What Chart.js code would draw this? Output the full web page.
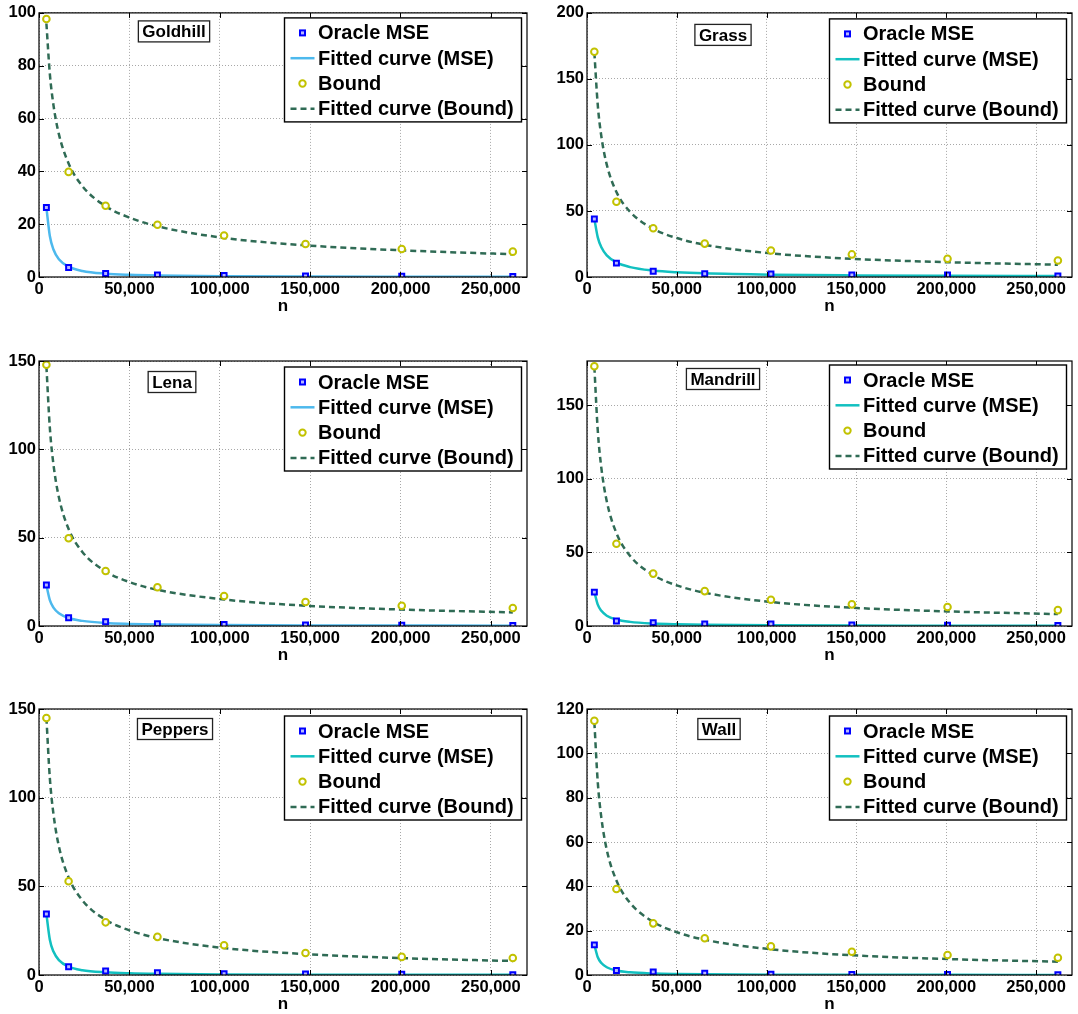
<!DOCTYPE html>
<html>
<head>
<meta charset="utf-8">
<script src="https://cdn.jsdelivr.net/npm/chart.js@4.4.0/dist/chart.umd.min.js"></script>
<style>
  body { margin: 0; background: #fff; }
  #wrap { position: relative; width: 1078px; height: 1014px; }
  #wrap canvas { position: absolute; }
</style>
</head>
<body>
<div id="wrap"></div>
<script>
// sample sizes n (64^2 ... 512^2) and the n values where the fitted curves were read
const nValues = [4096, 16384, 36864, 65536, 102400, 147456, 200704, 262144];
const fitN = [4096, 6000, 8000, 11000, 16384, 24000, 36864, 50000, 65536, 102400, 147456, 200704, 262144];
const xTickValues = [0, 50000, 100000, 150000, 200000, 250000];

const goldhillMse = [26.3, 3.6, 1.3, 0.8, 0.6, 0.4, 0.3, 0.2];
const goldhillMseFit = [26.3, 15.5, 10.4, 6.7, 3.9, 2.3, 1.27, 0.83, 0.57, 0.31, 0.19, 0.12, 0.09];
const goldhillBound = [97.7, 39.8, 27.0, 19.8, 15.7, 12.5, 10.6, 9.6];
const goldhillBoundFit = [96, 76.9, 65.1, 54.1, 43.0, 34.4, 26.8, 22.5, 19.2, 14.8, 12.0, 10.1, 8.6];
const goldhillTicks = [0, 20, 40, 60, 80, 100];

const grassMse = [43.9, 10.5, 4.3, 2.5, 2.2, 1.6, 1.5, 0.8];
const grassMseFit = [44, 30.0, 22.5, 16.4, 11.0, 7.5, 4.9, 3.6, 2.75, 1.76, 1.22, 0.9, 0.69];
const grassBound = [170.6, 57.0, 36.9, 25.3, 20.1, 17.1, 13.8, 12.5];
const grassBoundFit = [170, 130.1, 106.4, 85.1, 64.4, 49.3, 36.5, 29.5, 24.4, 17.9, 13.8, 11.2, 9.3];
const grassTicks = [0, 50, 100, 150, 200];

const lenaMse = [23.2, 4.7, 2.4, 1.3, 0.8, 0.6, 0.5, 0.3];
const lenaMseFit = [23, 14.6, 10.4, 7.2, 4.5, 2.9, 1.7, 1.2, 0.87, 0.52, 0.33, 0.23, 0.17];
const lenaBound = [147.9, 49.7, 31.1, 21.9, 17.0, 13.6, 11.5, 10.2];
const lenaBoundFit = [147, 112.1, 91.4, 72.9, 54.9, 41.9, 30.9, 24.9, 20.5, 15.0, 11.5, 9.3, 7.7];
const lenaTicks = [0, 50, 100, 150];

const mandrillMse = [23.0, 3.4, 2.3, 1.4, 1.3, 0.7, 0.5, 0.3];
const mandrillMseFit = [23, 14.5, 10.3, 7.0, 4.4, 2.8, 1.65, 1.14, 0.83, 0.48, 0.31, 0.22, 0.16];
const mandrillBound = [176.4, 55.9, 35.6, 23.7, 17.8, 14.7, 12.9, 10.8];
const mandrillBoundFit = [176, 132.7, 107.3, 84.7, 63.1, 47.6, 34.6, 27.6, 22.6, 16.3, 12.4, 9.9, 8.1];
const mandrillTicks = [0, 50, 100, 150];

const peppersMse = [34.4, 4.7, 2.3, 1.3, 0.75, 0.6, 0.4, 0.2];
const peppersMseFit = [34.4, 19.9, 13.2, 8.4, 4.7, 2.7, 1.5, 0.96, 0.65, 0.34, 0.2, 0.13, 0.09];
const peppersBound = [144.9, 52.9, 29.7, 21.5, 16.8, 12.4, 10.2, 9.6];
const peppersBoundFit = [145, 111.0, 90.8, 72.6, 55.0, 42.1, 31.1, 25.2, 20.8, 15.2, 11.8, 9.5, 7.9];
const peppersTicks = [0, 50, 100, 150];

const wallMse = [13.6, 2.0, 1.4, 0.8, 0.4, 0.2, 0.2, 0.1];
const wallMseFit = [13.6, 8.0, 5.4, 3.5, 2.0, 1.19, 0.66, 0.43, 0.3, 0.16, 0.1, 0.06, 0.04];
const wallBound = [114.7, 38.8, 23.3, 16.6, 12.9, 10.5, 9.0, 7.8];
const wallBoundFit = [114, 86.9, 70.9, 56.5, 42.6, 32.5, 24.0, 19.3, 15.9, 11.6, 8.9, 7.2, 6.0];
const wallTicks = [0, 20, 40, 60, 80, 100, 120];

const legendLabels = ["Oracle MSE", "Fitted curve (MSE)", "Bound", "Fitted curve (Bound)"];

const FONT = "'Liberation Sans', Arial, Helvetica, sans-serif";
const lightBlue = "#4db9ed";
const cyan = "#12c0c0";
const boundGreen = "#2f6b55";
const markerBlue = "#0000ff";
const boundYellow = "#c2c200";

const cols = [
    { left: 0, width: 539, plotLeft: 39, plotRight: 527 },
    { left: 539, width: 539, plotLeft: 587, plotRight: 1075 }
];
const rows = [
    { top: 0, height: 330, plotTop: 12, plotBottom: 277 },
    { top: 330, height: 350, plotTop: 361, plotBottom: 626 },
    { top: 680, height: 334, plotTop: 709, plotBottom: 975 }
];

const panels = [
    { title: "Goldhill", mse: goldhillMse, mseFit: goldhillMseFit, bound: goldhillBound, boundFit: goldhillBoundFit,
      yMax: 100, yTicks: goldhillTicks, fitColor: lightBlue, col: 0, row: 0, titleX: 135, titleY: 18.5, legendY: 5 },
    { title: "Grass", mse: grassMse, mseFit: grassMseFit, bound: grassBound, boundFit: grassBoundFit,
      yMax: 200, yTicks: grassTicks, fitColor: cyan, col: 1, row: 0, titleX: 136, titleY: 22, legendY: 6 },
    { title: "Lena", mse: lenaMse, mseFit: lenaMseFit, bound: lenaBound, boundFit: lenaBoundFit,
      yMax: 150, yTicks: lenaTicks, fitColor: lightBlue, col: 0, row: 1, titleX: 133, titleY: 21, legendY: 6 },
    { title: "Mandrill", mse: mandrillMse, mseFit: mandrillMseFit, bound: mandrillBound, boundFit: mandrillBoundFit,
      yMax: 180, yTicks: mandrillTicks, fitColor: cyan, col: 1, row: 1, titleX: 136, titleY: 18, legendY: 4 },
    { title: "Peppers", mse: peppersMse, mseFit: peppersMseFit, bound: peppersBound, boundFit: peppersBoundFit,
      yMax: 150, yTicks: peppersTicks, fitColor: cyan, col: 0, row: 2, titleX: 136, titleY: 20, legendY: 7 },
    { title: "Wall", mse: wallMse, mseFit: wallMseFit, bound: wallBound, boundFit: wallBoundFit,
      yMax: 120, yTicks: wallTicks, fitColor: cyan, col: 1, row: 2, titleX: 132, titleY: 20, legendY: 7 }
];

function pairs(xs, ys) {
    return xs.map((x, i) => ({ x: x, y: ys[i] }));
}

function fmt(v) {
    return String(v).replace(/\B(?=(\d{3})+(?!\d))/g, ",");
}

// box, inward ticks, "n" label, image name and legend
const decor = {
    id: "decor",
    afterDraw(chart, args, opts) {
        const ctx = chart.ctx;
        const a = chart.chartArea;
        const x = chart.scales.x, y = chart.scales.y;
        const p = opts.panel;
        ctx.save();

        ctx.strokeStyle = "#000";
        ctx.lineWidth = 1.2;
        ctx.strokeRect(a.left, a.top, a.right - a.left, a.bottom - a.top);
        ctx.beginPath();
        xTickValues.forEach(v => {
            const px = Math.round(x.getPixelForValue(v)) + 0.5;
            ctx.moveTo(px, a.bottom); ctx.lineTo(px, a.bottom - 5);
            ctx.moveTo(px, a.top); ctx.lineTo(px, a.top + 5);
        });
        p.yTicks.forEach(v => {
            const py = Math.round(y.getPixelForValue(v)) + 0.5;
            ctx.moveTo(a.left, py); ctx.lineTo(a.left + 5, py);
            ctx.moveTo(a.right, py); ctx.lineTo(a.right - 5, py);
        });
        ctx.lineWidth = 1;
        ctx.stroke();

        ctx.fillStyle = "#000";
        ctx.font = "bold 17px " + FONT;
        ctx.textAlign = "center";
        ctx.textBaseline = "middle";
        ctx.fillText("n", (a.left + a.right) / 2, a.bottom + 29);

        // image name box
        const tw = ctx.measureText(p.title).width + 8;
        const tx = a.left + p.titleX, ty = a.top + p.titleY;
        ctx.fillStyle = "#fff";
        ctx.fillRect(tx - tw / 2, ty - 10.5, tw, 21);
        ctx.strokeStyle = "#222";
        ctx.lineWidth = 1.3;
        ctx.strokeRect(tx - tw / 2, ty - 10.5, tw, 21);
        ctx.fillStyle = "#000";
        ctx.fillText(p.title, tx, ty + 1);

        // legend
        const lw = 237, lh = 104;
        const lx = a.right - 5.5 - lw, ly = a.top + p.legendY;
        ctx.fillStyle = "#fff";
        ctx.fillRect(lx, ly, lw, lh);
        ctx.strokeStyle = "#000";
        ctx.lineWidth = 1.4;
        ctx.strokeRect(lx, ly, lw, lh);
        ctx.font = "bold 20px " + FONT;
        ctx.textAlign = "left";
        const ds = chart.data.datasets;
        legendLabels.forEach((label, i) => {
            const cy = ly + 15 + i * 25.3;
            const mx = lx + 18;
            const d = ds[i];
            ctx.save();
            if (i === 0) {
                ctx.fillStyle = d.pointBackgroundColor;
                ctx.strokeStyle = d.pointBorderColor;
                ctx.lineWidth = 2;
                ctx.fillRect(mx - 2.5, cy - 2.5, 5, 5);
                ctx.strokeRect(mx - 2.5, cy - 2.5, 5, 5);
            } else if (i === 2) {
                ctx.fillStyle = d.pointBackgroundColor;
                ctx.strokeStyle = d.pointBorderColor;
                ctx.lineWidth = 2;
                ctx.beginPath();
                ctx.arc(mx, cy, 3.2, 0, Math.PI * 2);
                ctx.fill();
                ctx.stroke();
            } else {
                ctx.strokeStyle = d.borderColor;
                ctx.lineWidth = d.borderWidth;
                ctx.setLineDash(d.borderDash || []);
                ctx.beginPath();
                ctx.moveTo(lx + 6, cy);
                ctx.lineTo(lx + 30, cy);
                ctx.stroke();
            }
            ctx.restore();
            ctx.fillStyle = "#000";
            ctx.fillText(label, lx + 33.5, cy + 1);
        });
        ctx.restore();
    }
};

const wrap = document.getElementById("wrap");

panels.forEach(p => {
    const c = cols[p.col], r = rows[p.row];
    const canvas = document.createElement("canvas");
    canvas.width = c.width;
    canvas.height = r.height;
    canvas.style.left = c.left + "px";
    canvas.style.top = r.top + "px";
    wrap.appendChild(canvas);

    const yAxisW = c.plotLeft - c.left;
    const xAxisH = r.top + r.height - r.plotBottom;

    new Chart(canvas, {
        type: "scatter",
        data: {
            datasets: [
                {
                    label: legendLabels[0],
                    data: pairs(nValues, p.mse),
                    pointStyle: "rect",
                    pointRadius: 3.5,
                    pointBorderWidth: 2,
                    pointBorderColor: markerBlue,
                    pointBackgroundColor: "#b8b8ff"
                },
                {
                    label: legendLabels[1],
                    data: pairs(fitN, p.mseFit),
                    showLine: true,
                    pointRadius: 0,
                    borderColor: p.fitColor,
                    borderWidth: 2.5,
                    cubicInterpolationMode: "monotone"
                },
                {
                    label: legendLabels[2],
                    data: pairs(nValues, p.bound),
                    pointStyle: "circle",
                    pointRadius: 3.3,
                    pointBorderWidth: 2,
                    pointBorderColor: boundYellow,
                    pointBackgroundColor: "#ffffff"
                },
                {
                    label: legendLabels[3],
                    data: pairs(fitN, p.boundFit),
                    showLine: true,
                    pointRadius: 0,
                    borderColor: boundGreen,
                    borderWidth: 2.5,
                    borderDash: [6, 4],
                    cubicInterpolationMode: "monotone"
                }
            ]
        },
        options: {
            responsive: false,
            animation: false,
            events: [],
            layout: {
                padding: { top: r.plotTop - r.top, right: c.left + c.width - c.plotRight, left: 0, bottom: 0 }
            },
            plugins: {
                legend: { display: false },
                tooltip: { enabled: false },
                decor: { panel: p }
            },
            scales: {
                x: {
                    type: "linear",
                    min: 0,
                    max: 270000,
                    afterBuildTicks: s => { s.ticks = xTickValues.map(v => ({ value: v })); },
                    afterFit: s => { s.height = xAxisH; },
                    grid: { color: "#a8a8a8", lineWidth: 1, drawTicks: false },
                    border: { display: false, dash: [1, 2] },
                    ticks: {
                        padding: 3,
                        color: "#000",
                        maxRotation: 0,
                        font: { family: FONT, size: 16.5, weight: "bold" },
                        callback: v => fmt(v)
                    }
                },
                y: {
                    type: "linear",
                    min: 0,
                    max: p.yMax,
                    afterBuildTicks: s => { s.ticks = p.yTicks.map(v => ({ value: v })); },
                    afterFit: s => { s.width = yAxisW; },
                    grid: { color: "#a8a8a8", lineWidth: 1, drawTicks: false },
                    border: { display: false, dash: [1, 2] },
                    ticks: {
                        padding: 3,
                        color: "#000",
                        font: { family: FONT, size: 16.5, weight: "bold" }
                    }
                }
            }
        },
        plugins: [decor]
    });
});
</script>
</body>
</html>
